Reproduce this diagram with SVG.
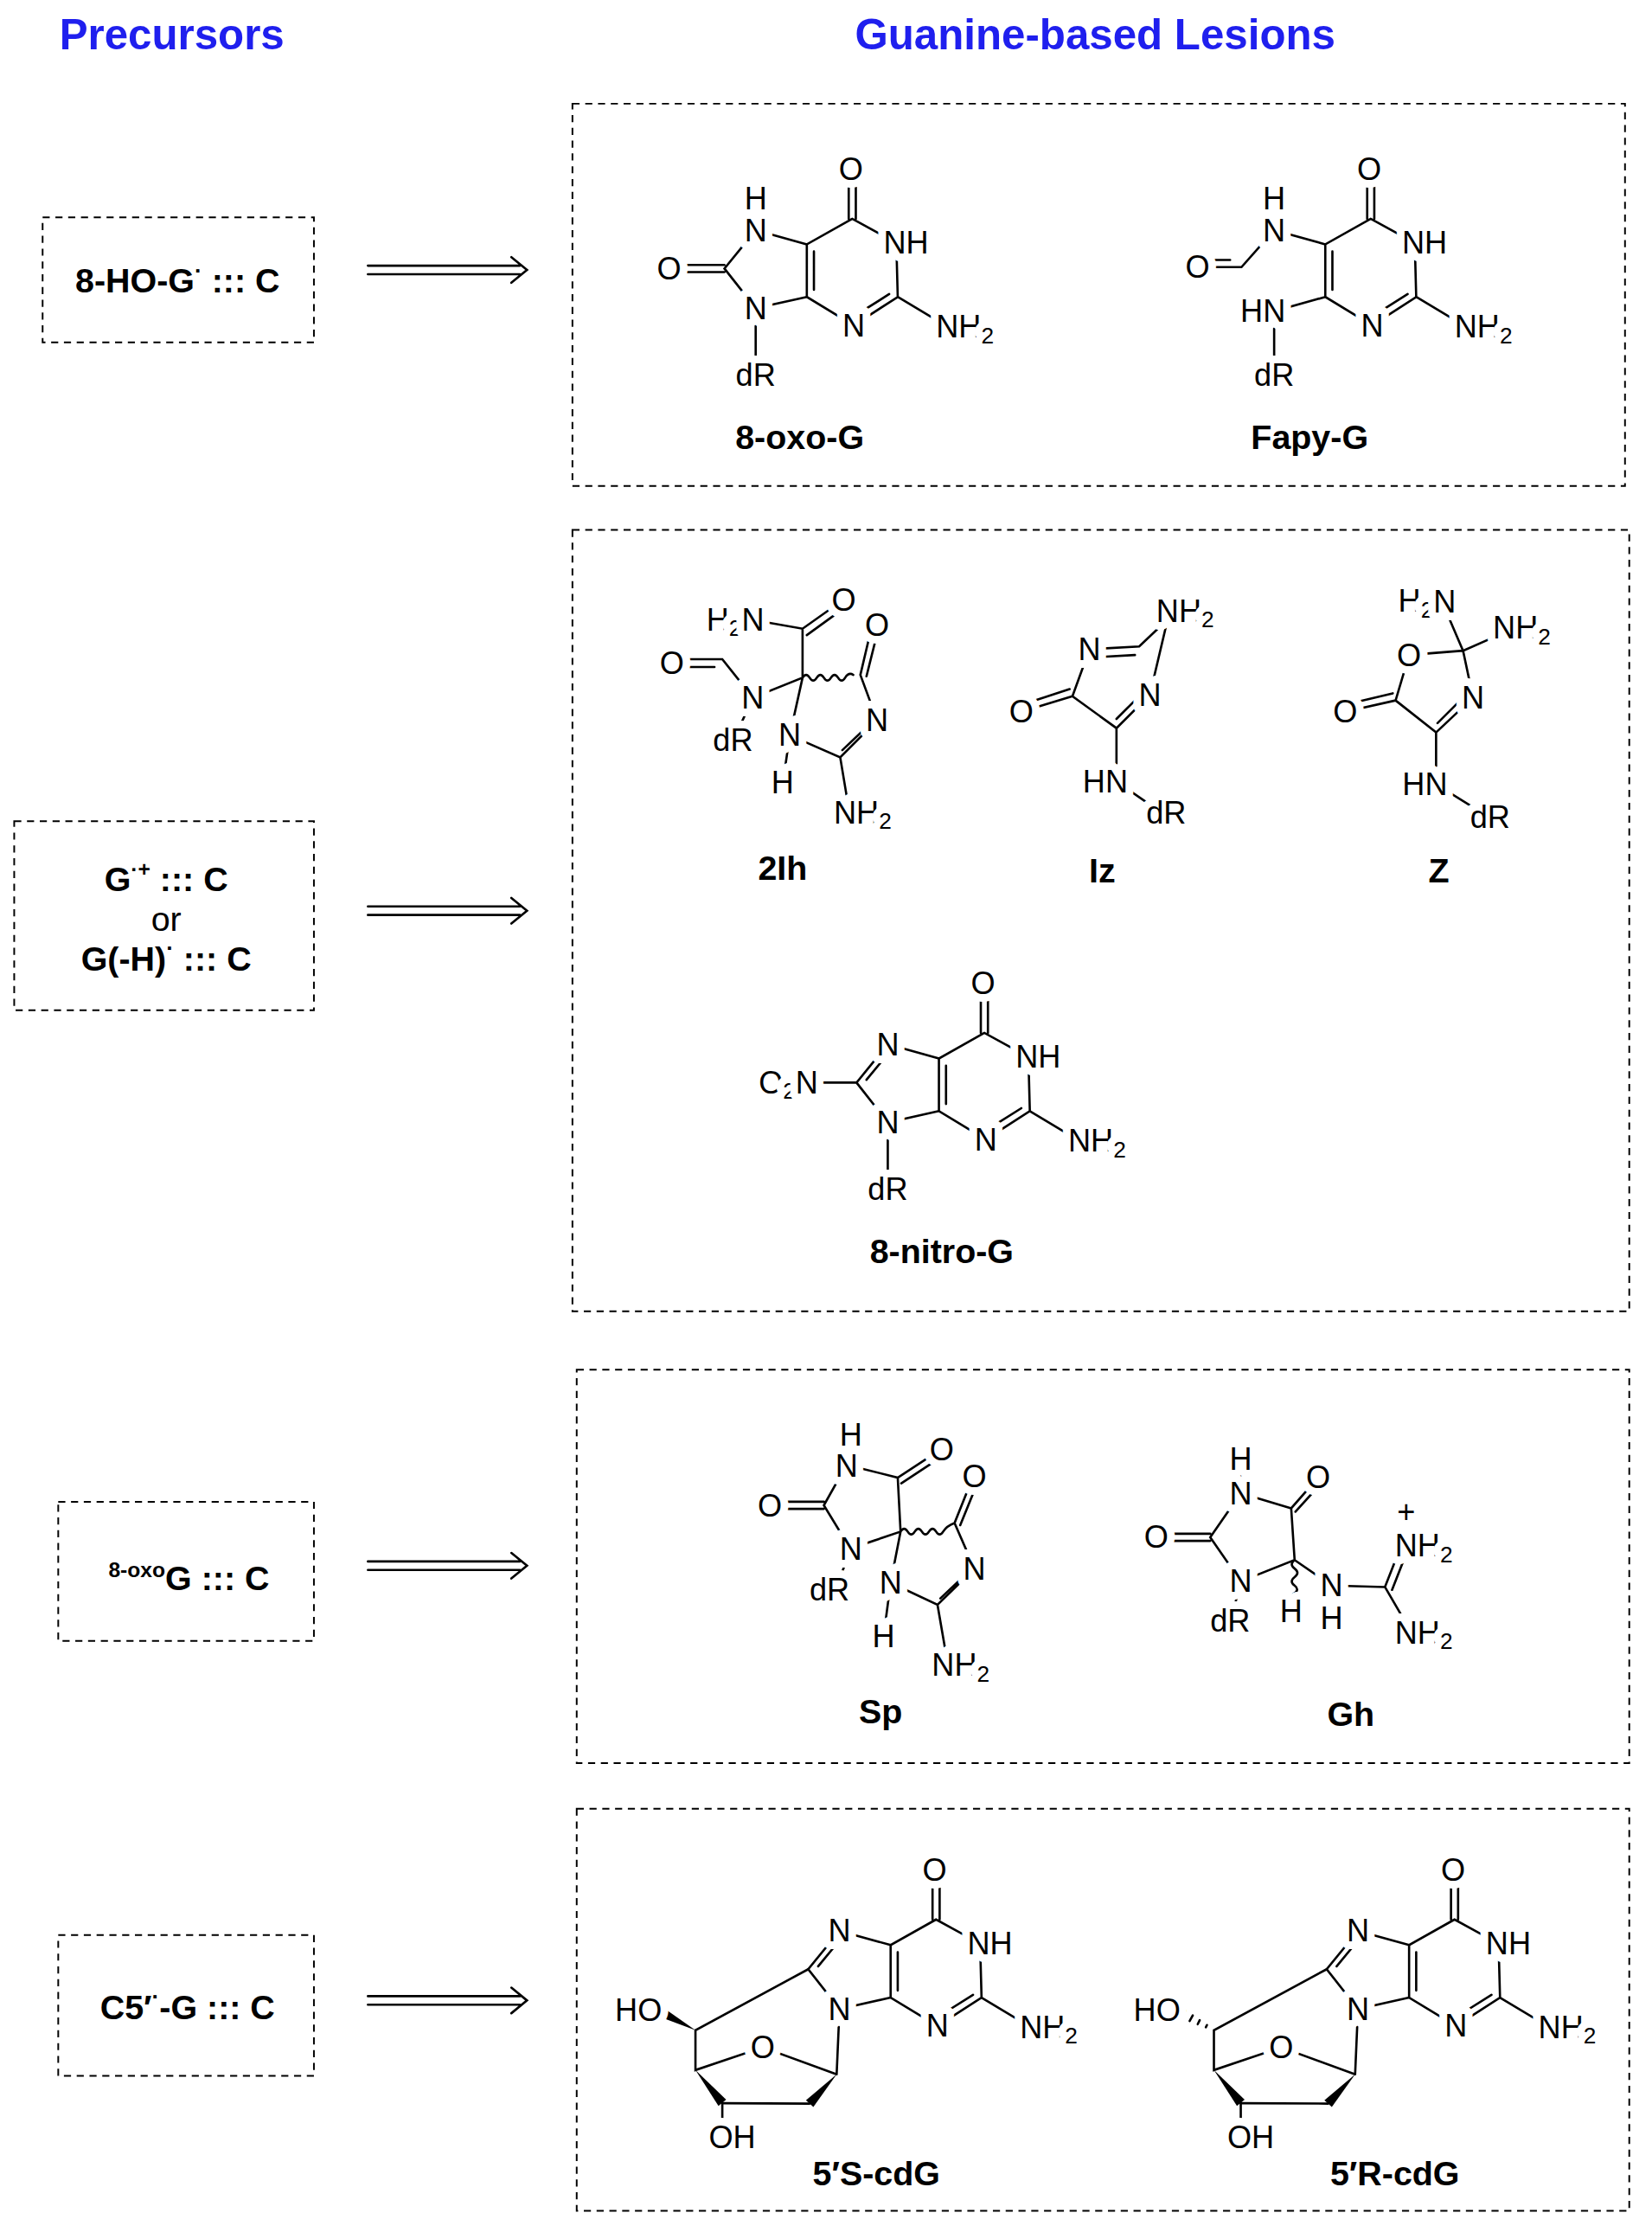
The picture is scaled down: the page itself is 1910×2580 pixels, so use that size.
<svg xmlns="http://www.w3.org/2000/svg" width="1910" height="2580" viewBox="0 0 1910 2580">
<style>
.b{stroke:#000;stroke-width:1.6;fill:none;stroke-linecap:round}
.w{fill:#000;stroke:none}
.a{font-family:"Liberation Sans",Arial,sans-serif;font-size:22px;fill:#000;stroke:#fff;stroke-width:11;paint-order:stroke;stroke-linejoin:round;text-anchor:middle;dominant-baseline:central}
.s{text-anchor:start}
.e{text-anchor:end}
.l{font-family:"Liberation Sans",Arial,sans-serif;font-size:24px;font-weight:bold;fill:#000;text-anchor:middle}
.h{font-family:"Liberation Sans",Arial,sans-serif;font-size:30px;font-weight:bold;fill:#1f1fee;text-anchor:middle}
.box{fill:none;stroke:#000;stroke-width:1.2;stroke-dasharray:5 4}
</style>
<rect width="1910" height="2580" fill="#fff"/>
<g transform="scale(1.6423)">
<text class="h" x="121" y="35">Precursors</text>
<text class="h" x="771" y="35">Guanine-based Lesions</text>

<g id="p1"><rect class="box" x="30" y="153" width="191" height="88"/>
<text class="l" x="125" y="206">8-HO-G<tspan font-size="16" dy="-10">·</tspan><tspan dy="10"> ::: C</tspan></text></g>
<g id="p2"><rect class="box" x="10" y="578" width="211" height="133"/>
<text class="l" x="117" y="627">G<tspan font-size="15" dy="-10">·+</tspan><tspan dy="10"> ::: C</tspan></text>
<text class="l" x="117" y="655" style="font-weight:normal">or</text>
<text class="l" x="117" y="683">G(-H)<tspan font-size="16" dy="-10">·</tspan><tspan dy="10"> ::: C</tspan></text></g>
<g id="p3"><rect class="box" x="41" y="1057" width="180" height="98"/>
<text class="l" x="133" y="1119"><tspan font-size="15" dy="-9">8-oxo</tspan><tspan dy="9">G ::: C</tspan></text></g>
<g id="p4"><rect class="box" x="41" y="1362" width="180" height="99"/>
<text class="l" x="132" y="1421">C5′<tspan font-size="16" dy="-10">·</tspan><tspan dy="10">-G ::: C</tspan></text></g>

<g id="connectors">
<path class="b" d="M259,187 H366 M259,193 H366 M360,181 L371,190 L360,199"/>
<path class="b" d="M259,638 H366 M259,644 H366 M360,632 L371,641 L360,650"/>
<path class="b" d="M259,1099 H366 M259,1105 H366 M360,1093 L371,1102 L360,1111"/>
<path class="b" d="M259,1405 H366 M259,1411 H366 M360,1399 L371,1408 L360,1417"/>
</g>

<rect class="box" x="403" y="73" width="741" height="269"/>
<rect class="box" x="403" y="373" width="744" height="550"/>
<rect class="box" x="406" y="964" width="741" height="277"/>
<rect class="box" x="406" y="1273" width="741" height="283"/>

<g id="oxoG">
<path class="b" d="M600,154 L568,172 L568,209 L601,229 L632,209 L631,171 Z M573,177 V204 M607,219 L626,207 M597.5,125 V154 M602.5,125 V154 M632,209 L667,230 M568,172 L532,162 L532,140 M532,162 L510,189 L532,217 L568,209 M510,186.5 H471 M510,191.5 H471 M532,217 V264"/>
<text class="a" x="599" y="119">O</text><text class="a" x="532" y="140">H</text><text class="a" x="532" y="162">N</text>
<text class="a s" x="622" y="171">NH</text><text class="a" x="601" y="229">N</text>
<text class="a s" x="659" y="230">NH<tspan font-size="16" dy="6">2</tspan></text>
<text class="a" x="471" y="189">O</text><text class="a" x="532" y="217">N</text><text class="a" x="532" y="264">dR</text>
<text class="l" x="563" y="316">8-oxo-G</text>
</g>

<g id="fapyG">
<path class="b" d="M965,154 L933,172 L933,209 L966,229 L997,209 L996,171 Z M938,177 V204 M972,219 L991,207 M962.5,125 V154 M967.5,125 V154 M997,209 L1032,230 M933,172 L897,162 L897,140 M897,162 L874,188 H843 M866,183 H843 M933,209 L897,219 V264"/>
<text class="a" x="964" y="119">O</text><text class="a" x="897" y="140">H</text><text class="a" x="897" y="162">N</text>
<text class="a s" x="987" y="171">NH</text><text class="a" x="966" y="229">N</text>
<text class="a s" x="1024" y="230">NH<tspan font-size="16" dy="6">2</tspan></text>
<text class="a" x="843" y="188">O</text><text class="a e" x="905" y="219">HN</text><text class="a" x="897" y="264">dR</text>
<text class="l" x="922" y="316">Fapy-G</text>
</g>

<g id="2Ih">
<path class="b" d="M528,436 L565,442.5 L594,422 M568,447 L597,426 M565,442.5 V477 M473,464 H508.5 L530,491 L565,477 L556,517.5 L551,552 M477,469.5 H503 M530,491 L516,522 M565,477 q2.5,-4 5,0 t5,0 t5,0 t5,0 t5,0 t5,0 t5.7,-2 M605.7,475 L613,444 M610,476 L617.5,446 M605.7,475 L617.5,507 L591.5,533 L556,517.5 M612,510 L593,528 M591.5,533 L598,572"/>
<text class="a e" x="538" y="436">H<tspan font-size="16" dy="6">2</tspan><tspan dy="-6">N</tspan></text>
<text class="a" x="594" y="422">O</text><text class="a" x="473" y="467">O</text><text class="a" x="530" y="491">N</text>
<text class="a" x="516" y="521">dR</text><text class="a" x="617.5" y="440">O</text><text class="a" x="617.5" y="507">N</text>
<text class="a" x="556" y="517.5">N</text><text class="a" x="551" y="551">H</text>
<text class="a s" x="587" y="572">NH<tspan font-size="16" dy="6">2</tspan></text>
<text class="l" x="551" y="619">2Ih</text>
</g>

<g id="Iz">
<path class="b" d="M822,436 L802,455 L767,457 L755,490 L786,512.5 L809.5,489 Z M799,461 L772,462.5 M755,490 L719,501 M753,485 L721,495.5 M786,506 L803,489 M786,512.5 V550 L812,568"/>
<text class="a s" x="814" y="430">NH<tspan font-size="16" dy="6">2</tspan></text>
<text class="a" x="767" y="457">N</text><text class="a" x="809.5" y="489">N</text><text class="a" x="719" y="501">O</text>
<text class="a e" x="794" y="550">HN</text><text class="a" x="821" y="572">dR</text>
<text class="l" x="776" y="621">Iz</text>
</g>

<g id="Z">
<path class="b" d="M1018,430 L1030,458 L1055,447 M1030,458 L992,461 L982.5,493 L1011,515.5 L1037,491 Z M982.5,493 L947,501 M980.5,488 L949,495.5 M1012,509 L1030,491 M1011,515.5 V552 L1040,570"/>
<text class="a e" x="1025" y="423">H<tspan font-size="16" dy="6">2</tspan><tspan dy="-6">N</tspan></text>
<text class="a s" x="1051" y="442">NH<tspan font-size="16" dy="6">2</tspan></text>
<text class="a" x="992" y="461">O</text><text class="a" x="1037" y="491">N</text><text class="a" x="947" y="501">O</text>
<text class="a e" x="1019" y="552">HN</text><text class="a" x="1049" y="575">dR</text>
<text class="l" x="1013" y="621">Z</text>
</g>

<g id="nitroG">
<g transform="translate(93,573)">
<path class="b" d="M600,154 L568,172 L568,209 L601,229 L632,209 L631,171 Z M573,177 V204 M607,219 L626,207 M597.5,125 V154 M602.5,125 V154 M632,209 L667,230 M568,172 L532,162 L510,189 L532,217 L568,209 M531,170 L517,187 M510,189 H482 M532,217 V264"/>
<text class="a" x="599" y="119">O</text><text class="a" x="532" y="162">N</text>
<text class="a s" x="622" y="171">NH</text><text class="a" x="601" y="229">N</text>
<text class="a s" x="659" y="230">NH<tspan font-size="16" dy="6">2</tspan></text>
<text class="a e" x="483" y="189">O<tspan font-size="16" dy="6">2</tspan><tspan dy="-6">N</tspan></text>
<text class="a" x="532" y="217">N</text><text class="a" x="532" y="264">dR</text>
</g>
<text class="l" x="663" y="889">8-nitro-G</text>
</g>

<g id="Sp">
<path class="b" d="M599,1012 L596,1031 L632,1040 L662.6,1020 M634.5,1044 L665,1024 M596,1031 L580,1059.5 L598.6,1090 L634,1078 L632,1040 M580,1057 H542 M580,1062 H542 M598.6,1090 L591,1112 M634,1078 L627,1114 L622,1152 M634,1078 q2.5,-4 5,0 t5,0 t5,0 t5,0 t5,0 t5,0 t8,-6 M672,1072 L684,1042 M676,1073.5 L688,1044 M672,1072 L686,1104 L660,1129.5 L627,1114 M680,1108 L662,1125 M660,1129.5 L667,1170"/>
<text class="a" x="599" y="1010">H</text><text class="a" x="596" y="1032">N</text><text class="a" x="663" y="1020">O</text>
<text class="a" x="542" y="1060">O</text><text class="a" x="599" y="1090">N</text><text class="a" x="584" y="1119">dR</text>
<text class="a" x="686" y="1039">O</text><text class="a" x="686" y="1104">N</text><text class="a" x="627" y="1114">N</text>
<text class="a" x="622" y="1152">H</text>
<text class="a s" x="656" y="1172">NH<tspan font-size="16" dy="6">2</tspan></text>
<text class="l" x="620" y="1213">Sp</text>
</g>

<g id="Gh">
<path class="b" d="M873.5,1029 V1051 L909,1061.6 L928,1040 M912,1064 L931,1043 M873.5,1051 L852,1082 L873.5,1113 L911.4,1098 L909,1061.6 M852,1079.5 H814 M852,1084.5 H814 M873.5,1113 L868,1135 M911.4,1098 q-4,3 0,6 t0,6 t0,6 t-1,6 M911.4,1098 L937.5,1116 L975,1117 L984,1094 M980,1119 L989,1096 M975,1117 L989,1141"/>
<text class="a" x="873.5" y="1027">H</text><text class="a" x="873.5" y="1051">N</text><text class="a" x="928" y="1040">O</text>
<text class="a" x="814" y="1082">O</text><text class="a" x="873.5" y="1113">N</text><text class="a" x="866" y="1141">dR</text>
<text class="a" x="909" y="1134">H</text><text class="a" x="937.5" y="1116">N</text><text class="a" x="937.5" y="1139">H</text>
<text class="a s" x="982" y="1088">NH<tspan font-size="16" dy="6">2</tspan></text>
<text class="a" x="990" y="1064" font-size="18">+</text>
<text class="a s" x="982" y="1149">NH<tspan font-size="16" dy="6">2</tspan></text>
<text class="l" x="951" y="1215">Gh</text>
</g>

<g id="cdG-S">
<g transform="translate(59,1197)">
<path class="b" d="M600,154 L568,172 L568,209 L601,229 L632,209 L631,171 Z M573,177 V204 M607,219 L626,207 M597.5,125 V154 M602.5,125 V154 M632,209 L667,230 M568,172 L532,162 L510,189 L532,217 L568,209 M531,170 L517,187"/>
<text class="a" x="599" y="119">O</text><text class="a" x="532" y="162">N</text>
<text class="a s" x="622" y="171">NH</text><text class="a" x="601" y="229">N</text>
<text class="a s" x="659" y="230">NH<tspan font-size="16" dy="6">2</tspan></text>
</g>
<path class="b" d="M569,1386 L489.6,1429 V1457 L537,1441 L589,1460 M591,1414 L589,1460 M508.5,1480 V1494"/>
<path class="b" d="M508.5,1480.3 L570,1480.6" stroke-width="5"/>
<polygon class="w" points="489.6,1429 469.6,1415 466.8,1420.4"/>
<polygon class="w" points="489.6,1457 511.2,1477.8 505.8,1482.2"/>
<polygon class="w" points="589,1460 572.6,1483 567.4,1478.2"/>
<text class="a" x="591" y="1414">N</text><text class="a" x="537" y="1441">O</text>
<text class="a e" x="466" y="1415">HO</text><text class="a s" x="499" y="1504">OH</text>
<text class="l" x="617" y="1538">5′S-cdG</text>
</g>

<g id="cdG-R" transform="translate(365,0)">
<g transform="translate(59,1197)">
<path class="b" d="M600,154 L568,172 L568,209 L601,229 L632,209 L631,171 Z M573,177 V204 M607,219 L626,207 M597.5,125 V154 M602.5,125 V154 M632,209 L667,230 M568,172 L532,162 L510,189 L532,217 L568,209 M531,170 L517,187"/>
<text class="a" x="599" y="119">O</text><text class="a" x="532" y="162">N</text>
<text class="a s" x="622" y="171">NH</text><text class="a" x="601" y="229">N</text>
<text class="a s" x="659" y="230">NH<tspan font-size="16" dy="6">2</tspan></text>
</g>
<path class="b" d="M569,1386 L489.6,1429 V1457 L537,1441 L589,1460 M591,1414 L589,1460 M508.5,1480 V1494"/>
<path class="b" d="M508.5,1480.3 L570,1480.6" stroke-width="5"/>
<path class="b" stroke-width="1.2" d="M484.7,1425.3 L483.9,1426.9 M479.6,1421.9 L478.2,1424.7 M474.7,1418.5 L472.5,1422.5 M469.6,1415 L466.8,1420.4"/>
<polygon class="w" points="489.6,1457 511.2,1477.8 505.8,1482.2"/>
<polygon class="w" points="589,1460 572.6,1483 567.4,1478.2"/>
<text class="a" x="591" y="1414">N</text><text class="a" x="537" y="1441">O</text>
<text class="a e" x="466" y="1415">HO</text><text class="a s" x="499" y="1504">OH</text>
<text class="l" x="617" y="1538">5′R-cdG</text>
</g>
</g>
</svg>
